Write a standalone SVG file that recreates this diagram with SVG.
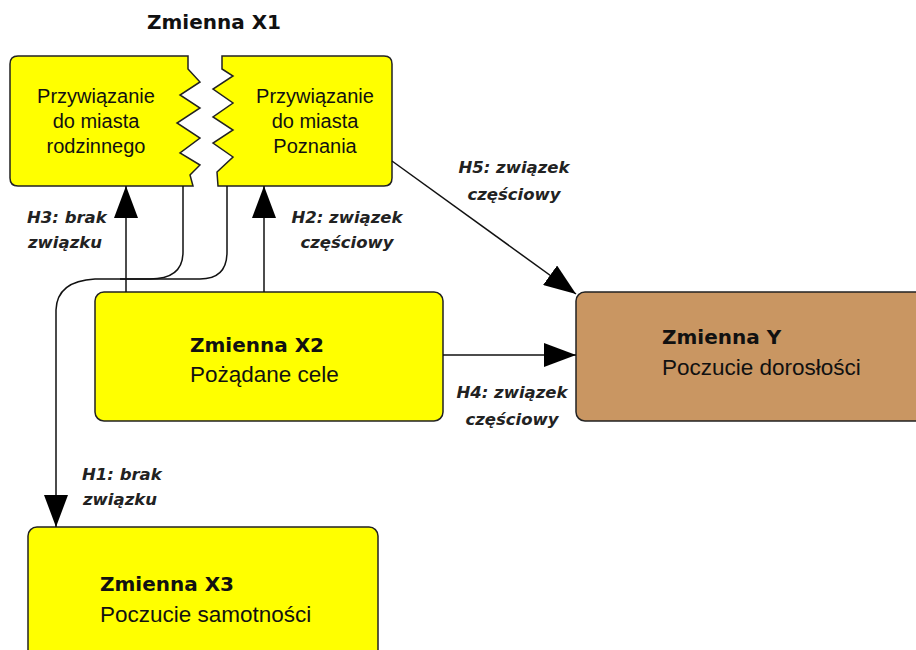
<svg xmlns="http://www.w3.org/2000/svg" width="916" height="650" viewBox="0 0 916 650">
<defs>
<style>
.box{fill:#FFFF00;stroke:#222;stroke-width:1.5}
.boxY{fill:#C99662;stroke:#222;stroke-width:1.5}
.t{font-family:"Liberation Sans",Arial,sans-serif;font-size:20px;fill:#111}
.reg{font-family:"Liberation Sans",Arial,sans-serif;font-size:22.5px;fill:#111}
.ttl{font-family:"DejaVu Sans",Verdana,sans-serif;font-weight:bold;font-size:20px;fill:#111}
.lbl{font-family:"DejaVu Sans",Verdana,sans-serif;font-weight:bold;font-style:italic;font-size:16.5px;fill:#222}
.c{fill:none;stroke:#111;stroke-width:1.5}
</style>
<marker id="ah" markerWidth="32" markerHeight="24" refX="32" refY="12" orient="auto" markerUnits="userSpaceOnUse">
<path d="M0,0 L32,12 L0,24 Z" fill="#000"/>
</marker>
</defs>
<rect width="916" height="650" fill="#fff"/>

<g id="x1-title">
<text class="ttl" x="214" y="29" text-anchor="middle">Zmienna X1</text>
</g>

<g id="x1-left">
<path class="box" d="M18,56 H188 V69 L200,82 L180,95 L200,108 L177,123 L200,138 L180,153 L200,165 L190,175 L193,186 H18 Q10,186 10,178 V64 Q10,56 18,56 Z"/>
<text class="t" x="96" y="103" text-anchor="middle">Przywiązanie</text>
<text class="t" x="96" y="128" text-anchor="middle">do miasta</text>
<text class="t" x="96" y="153" text-anchor="middle">rodzinnego</text>
</g>

<g id="x1-right">
<path class="box" d="M222,56 H384 Q392,56 392,64 V178 Q392,186 384,186 H218 L217,172 L233,157 L213,143 L233,130 L213,117 L233,103 L213,89 L233,76 L222,69 Z"/>
<text class="t" x="315" y="103" text-anchor="middle">Przywiązanie</text>
<text class="t" x="315" y="128" text-anchor="middle">do miasta</text>
<text class="t" x="315" y="153" text-anchor="middle">Poznania</text>
</g>

<g id="x2">
<rect class="box" x="95" y="292" width="348" height="129" rx="9"/>
<text class="ttl" x="190" y="352">Zmienna X2</text>
<text class="reg" x="190" y="382">Pożądane cele</text>
</g>

<g id="y">
<rect class="boxY" x="576" y="292" width="360" height="129" rx="9"/>
<text class="ttl" x="662" y="344">Zmienna Y</text>
<text class="reg" x="662" y="375">Poczucie dorosłości</text>
</g>

<g id="x3">
<rect class="box" x="28" y="527" width="350" height="140" rx="9"/>
<text class="ttl" x="100" y="591">Zmienna X3</text>
<text class="reg" x="100" y="622">Poczucie samotności</text>
</g>

<g id="connectors">
<path class="c" d="M183,186 V252 Q183,279 150,279 H120"/>
<path class="c" d="M227,186 V252 Q227,279 200,279 H95 Q57,281 56,310 V527" marker-end="url(#ah)"/>
<path class="c" d="M126,292 V186" marker-end="url(#ah)"/>
<path class="c" d="M264,292 V186" marker-end="url(#ah)"/>
<path class="c" d="M443,355 H576" marker-end="url(#ah)"/>
<path class="c" d="M392,161 L576,294" marker-end="url(#ah)"/>
</g>

<g id="labels">
<text class="lbl" x="27" y="223">H3: brak</text>
<text class="lbl" x="28" y="248">związku</text>
<text class="lbl" x="347" y="223" text-anchor="middle">H2: związek</text>
<text class="lbl" x="347" y="248" text-anchor="middle">częściowy</text>
<text class="lbl" x="514" y="173" text-anchor="middle">H5: związek</text>
<text class="lbl" x="514" y="200" text-anchor="middle">częściowy</text>
<text class="lbl" x="512" y="398" text-anchor="middle">H4: związek</text>
<text class="lbl" x="512" y="425" text-anchor="middle">częściowy</text>
<text class="lbl" x="82" y="480">H1: brak</text>
<text class="lbl" x="83" y="505">związku</text>
</g>
</svg>
